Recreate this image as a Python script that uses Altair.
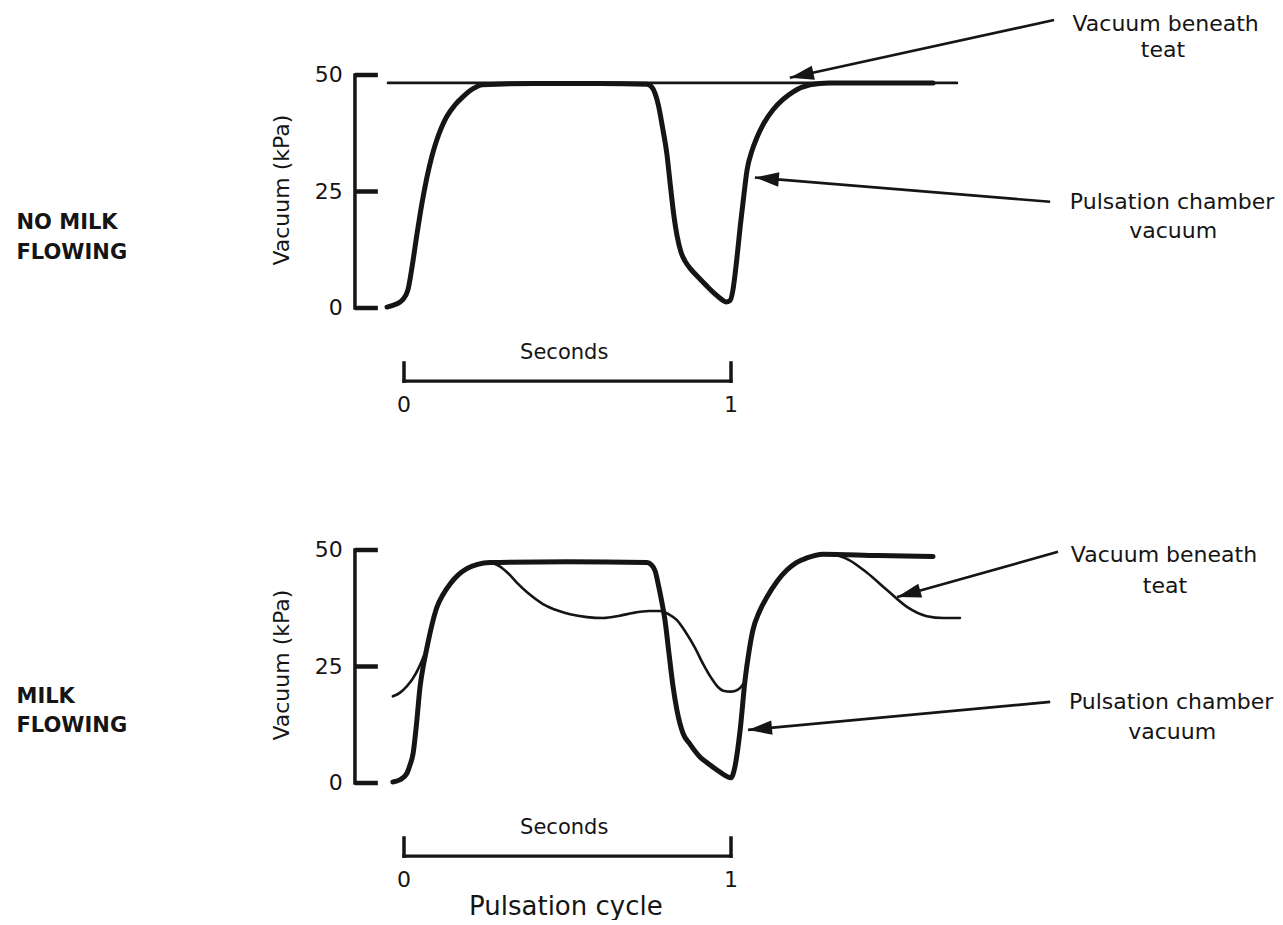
import math
import altair as alt
import pandas as pd

# ------------------------------------------------------------------
# Data (time in seconds, vacuum in kPa)
# ------------------------------------------------------------------
# Panel 1: NO MILK FLOWING
TOP_CHAMBER_T = [-0.052, -0.025, -0.005, 0.012, 0.025, 0.040, 0.055, 0.070, 0.085, 0.10, 0.115,
                 0.13, 0.155, 0.18, 0.21, 0.24, 0.40, 0.60,
                 0.743, 0.757, 0.768, 0.778, 0.790, 0.804, 0.815, 0.825, 0.835, 0.847, 0.860,
                 0.875, 0.90, 0.925, 0.95, 0.97, 0.985, 0.997, 1.006, 1.017, 1.028,
                 1.039, 1.049, 1.063, 1.080, 1.10, 1.128, 1.16, 1.190, 1.242, 1.30, 1.618]
TOP_CHAMBER_V = [0.2, 0.8, 1.7, 3.9, 9, 16, 22.5, 28, 32.5, 36, 38.8,
                 41, 43.5, 45.3, 47, 47.9, 48.2, 48.2,
                 48.0, 47.5, 46, 43.5, 39, 33, 26, 20, 15.5, 12, 10,
                 8.5, 6.6, 4.8, 3.1, 1.9, 1.3, 1.6, 3.9, 10, 17.4,
                 24, 29.6, 33.5, 36.7, 39.6, 42.5, 44.8, 46.4, 47.9, 48.3, 48.3]
TOP_TEAT_T = [-0.049, 1.691]
TOP_TEAT_V = [48.3, 48.3]

# Panel 2: MILK FLOWING
BOT_CHAMBER_T = [-0.034, -0.012, 0.009, 0.018, 0.028, 0.038, 0.049, 0.06, 0.07, 0.085, 0.10,
                 0.12, 0.141, 0.165, 0.192, 0.225, 0.263, 0.50, 0.743,
                 0.757, 0.768, 0.778, 0.788, 0.798, 0.810, 0.823, 0.835, 0.853, 0.875, 0.905,
                 0.93, 0.957, 0.98, 1.0, 1.012, 1.028, 1.043,
                 1.055, 1.067, 1.087, 1.110, 1.14, 1.171, 1.20, 1.232, 1.281, 1.45, 1.618]
BOT_CHAMBER_V = [0.2, 0.7, 2.1, 3.8, 6.4, 12.5, 20.6, 25.5, 29, 33.8, 37.6,
                 40.5, 42.7, 44.6, 46, 46.9, 47.3, 47.5, 47.3,
                 46.8, 45.5, 42.5, 39, 35, 28, 20.6, 15.5, 10.7, 8.3, 5.6,
                 4.2, 2.8, 1.7, 1.1, 3.5, 11.4, 22.1,
                 28.2, 32.8, 36.8, 39.9, 43.2, 45.7, 47.3, 48.3, 49.1, 48.8, 48.6]
BOT_TEAT_T = [-0.034, -0.012, 0.009, 0.025, 0.04, 0.055, 0.07, 0.085, 0.10, 0.12, 0.141,
              0.165, 0.192, 0.225, 0.263, 0.29, 0.32, 0.345, 0.38, 0.425, 0.47, 0.508, 0.56,
              0.609, 0.66, 0.70, 0.75, 0.783, 0.81, 0.834, 0.86, 0.89, 0.915, 0.94, 0.96,
              0.976, 1.0, 1.02, 1.035, 1.043, 1.055, 1.067, 1.087, 1.110, 1.14, 1.171, 1.20,
              1.232, 1.281, 1.32, 1.36, 1.416, 1.477, 1.538, 1.599, 1.65, 1.70]
BOT_TEAT_V = [18.6, 19.4, 20.8, 22.2, 24, 26.3, 29, 33.8, 37.6, 40.5, 42.7,
              44.6, 46, 46.9, 47.3, 46.6, 44.9, 43.0, 40.7, 38.4, 37.0, 36.2, 35.6,
              35.4, 35.9, 36.5, 36.9, 36.9, 36.2, 35, 32.5, 29, 25.5, 22.5, 20.6,
              19.8, 19.6, 20.0, 21.0, 22.1, 28.2, 32.8, 36.8, 39.9, 43.2, 45.7, 47.3,
              48.3, 49.1, 48.9, 47.9, 45.1, 41.4, 37.8, 35.8, 35.4, 35.4]

# Axis ticks and labels
Y_TICKS = [0, 25, 50]
Y_TICK_LABELS = ["0", "25", "50"]
Y_TITLE = "Vacuum (kPa)"
SCALE_TICKS = [0, 1]
SCALE_LABELS = ["0", "1"]
SCALE_TITLE = "Seconds"
BOTTOM_TITLE = "Pulsation cycle"

TOP_SIDE = ["NO MILK", "FLOWING"]
BOT_SIDE = ["MILK", "FLOWING"]

TEAT_LABEL = ["Vacuum beneath", "teat"]
CHAMBER_LABEL = ["Pulsation chamber", "vacuum"]

# Annotation anchors (seconds, kPa): arrow start -> arrow tip, label line centres
TOP_TEAT_ARROW = [(1.988, 61.8), (1.180, 49.4)]
TOP_CHAMBER_ARROW = [(1.976, 22.8), (1.073, 28.0)]
TOP_TEAT_TEXT = [(2.329, 61.0), (2.321, 55.4)]
TOP_CHAMBER_TEXT = [(2.349, 22.8), (2.352, 16.5)]
BOT_TEAT_ARROW = [(2.0, 49.6), (1.508, 39.9)]
BOT_CHAMBER_ARROW = [(1.976, 17.4), (1.052, 11.4)]
BOT_TEAT_TEXT = [(2.324, 48.9), (2.327, 42.3)]
BOT_CHAMBER_TEXT = [(2.346, 17.4), (2.349, 10.9)]

# ------------------------------------------------------------------
# Layout (scale set-up)
# ------------------------------------------------------------------
W = 1267
H_TOP, H_BOT = 465, 444
PX_PER_S = 327.0
PX_PER_KPA = 4.66
X0_PX = 396.0
Y0_TOP, Y0_BOT = 300.0, 310.0
XDOM = [-X0_PX / PX_PER_S, (W - X0_PX) / PX_PER_S]

AX_T = -0.150       # bracket axis line
AX_TICK_END = -0.080
TICK_LABEL_T = -0.187
Y_TITLE_T = -0.373
SIDE_T = -1.185
BAR_V = -15.7
BAR_TICK_V = -11.8
BAR_LABEL_V = -20.8
SECONDS_V = -9.6
CYCLE_V = -26.6

FONT = "DejaVu Sans"
INK = "#151515"
ARROW_PATH = "M0,0L0.3,1L-0.3,1Z"
HEAD_LEN = 24


def ydom(h, y0):
    return [-(h - y0) / PX_PER_KPA, y0 / PX_PER_KPA]


def head_angle(start, tip):
    dx = (tip[0] - start[0]) * PX_PER_S
    dy = -(tip[1] - start[1]) * PX_PER_KPA
    return math.degrees(math.atan2(dx, -dy)) % 360


def panel(h, y0, ch_t, ch_v, te_t, te_v, side, arrows, texts, extra_title):
    xs = alt.Scale(domain=XDOM, nice=False, zero=False)
    ys = alt.Scale(domain=ydom(h, y0), nice=False, zero=False)

    def X():
        return alt.X("t:Q", scale=xs, axis=None)

    def Y():
        return alt.Y("v:Q", scale=ys, axis=None)

    layers = []

    teat = pd.DataFrame({"t": te_t, "v": te_v, "i": range(len(te_t))})
    layers.append(alt.Chart(teat).mark_line(
        color=INK, strokeWidth=2.6, interpolate="monotone", strokeCap="round", strokeJoin="round"
    ).encode(x=X(), y=Y(), order="i:Q"))

    ch = pd.DataFrame({"t": ch_t, "v": ch_v, "i": range(len(ch_t))})
    layers.append(alt.Chart(ch).mark_line(
        color=INK, strokeWidth=5, interpolate="monotone", strokeCap="round", strokeJoin="round"
    ).encode(x=X(), y=Y(), order="i:Q"))

    # bracket-style y axis
    axis_line = pd.DataFrame({"t": [AX_T], "v": [min(Y_TICKS)], "v2": [max(Y_TICKS)]})
    layers.append(alt.Chart(axis_line).mark_rule(color=INK, strokeWidth=3.5, strokeCap="square")
                  .encode(x=X(), y=Y(), y2="v2:Q"))
    ticks = pd.DataFrame({"t": [AX_T] * len(Y_TICKS), "t2": [AX_TICK_END] * len(Y_TICKS),
                          "v": Y_TICKS, "lab": Y_TICK_LABELS})
    layers.append(alt.Chart(ticks).mark_rule(color=INK, strokeWidth=4.5)
                  .encode(x=X(), x2="t2:Q", y=Y()))
    tl = ticks.assign(t=TICK_LABEL_T)
    layers.append(alt.Chart(tl).mark_text(font=FONT, fontSize=22, color=INK, align="right",
                                          baseline="middle")
                  .encode(x=X(), y=Y(), text="lab:N"))
    ytitle = pd.DataFrame({"t": [Y_TITLE_T], "v": [25.3], "lab": [Y_TITLE]})
    layers.append(alt.Chart(ytitle).mark_text(font=FONT, fontSize=22, color=INK, angle=270,
                                              align="center", baseline="middle")
                  .encode(x=X(), y=Y(), text="lab:N"))

    # seconds scale bar
    bar = pd.DataFrame({"t": [SCALE_TICKS[0]], "t2": [SCALE_TICKS[-1]], "v": [BAR_V]})
    layers.append(alt.Chart(bar).mark_rule(color=INK, strokeWidth=3.2, strokeCap="square")
                  .encode(x=X(), x2="t2:Q", y=Y()))
    bticks = pd.DataFrame({"t": SCALE_TICKS, "v": [BAR_V] * 2, "v2": [BAR_TICK_V] * 2,
                           "lab": SCALE_LABELS})
    layers.append(alt.Chart(bticks).mark_rule(color=INK, strokeWidth=3.5, strokeCap="square")
                  .encode(x=X(), y=Y(), y2="v2:Q"))
    blab = bticks.assign(v=BAR_LABEL_V)
    layers.append(alt.Chart(blab).mark_text(font=FONT, fontSize=22, color=INK, baseline="middle")
                  .encode(x=X(), y=Y(), text="lab:N"))
    secs = pd.DataFrame({"t": [0.49], "v": [SECONDS_V], "lab": [SCALE_TITLE]})
    layers.append(alt.Chart(secs).mark_text(font=FONT, fontSize=21, color=INK, baseline="middle")
                  .encode(x=X(), y=Y(), text="lab:N"))
    if extra_title:
        cyc = pd.DataFrame({"t": [0.495], "v": [CYCLE_V], "lab": [extra_title]})
        layers.append(alt.Chart(cyc).mark_text(font=FONT, fontSize=26, color=INK, baseline="middle")
                      .encode(x=X(), y=Y(), text="lab:N"))

    # side label
    side_df = pd.DataFrame({"t": [SIDE_T, SIDE_T], "v": side["v"], "lab": side["lab"]})
    layers.append(alt.Chart(side_df).mark_text(font=FONT, fontSize=21, fontWeight="bold",
                                               color=INK, align="left", baseline="middle")
                  .encode(x=X(), y=Y(), text="lab:N"))

    # annotation arrows
    rows, heads = [], []
    for start, tip in arrows:
        rows.append({"t": start[0], "v": start[1], "t2": tip[0], "v2": tip[1]})
        heads.append({"t": tip[0], "v": tip[1], "ang": head_angle(start, tip)})
    layers.append(alt.Chart(pd.DataFrame(rows)).mark_rule(color=INK, strokeWidth=2.6)
                  .encode(x=X(), y=Y(), x2="t2:Q", y2="v2:Q"))
    layers.append(alt.Chart(pd.DataFrame(heads)).mark_point(
        shape=ARROW_PATH, filled=True, size=(2 * HEAD_LEN) ** 2, color=INK, opacity=1, strokeWidth=0
    ).encode(x=X(), y=Y(), angle=alt.Angle("ang:Q", scale=None)))

    trows = []
    for (lines, pos) in texts:
        for lab, (t, v) in zip(lines, pos):
            trows.append({"t": t, "v": v, "lab": lab})
    layers.append(alt.Chart(pd.DataFrame(trows)).mark_text(
        font=FONT, fontSize=22, color=INK, align="center", baseline="middle"
    ).encode(x=X(), y=Y(), text="lab:N"))

    return alt.layer(*layers).properties(width=W, height=h)


top = panel(H_TOP, Y0_TOP, TOP_CHAMBER_T, TOP_CHAMBER_V, TOP_TEAT_T, TOP_TEAT_V,
            {"v": [(Y0_TOP - 215) / PX_PER_KPA, (Y0_TOP - 245) / PX_PER_KPA], "lab": TOP_SIDE},
            [TOP_TEAT_ARROW, TOP_CHAMBER_ARROW],
            [(TEAT_LABEL, TOP_TEAT_TEXT), (CHAMBER_LABEL, TOP_CHAMBER_TEXT)], None)
bot = panel(H_BOT, Y0_BOT, BOT_CHAMBER_T, BOT_CHAMBER_V, BOT_TEAT_T, BOT_TEAT_V,
            {"v": [(Y0_BOT - 224) / PX_PER_KPA, (Y0_BOT - 253) / PX_PER_KPA], "lab": BOT_SIDE},
            [BOT_TEAT_ARROW, BOT_CHAMBER_ARROW],
            [(TEAT_LABEL, BOT_TEAT_TEXT), (CHAMBER_LABEL, BOT_CHAMBER_TEXT)], BOTTOM_TITLE)

chart = (alt.vconcat(top, bot, spacing=0)
         .properties(padding=0, background="white")
         .configure_view(strokeWidth=0))

chart.save("out.html", embed_options={"renderer": "svg", "actions": False})
